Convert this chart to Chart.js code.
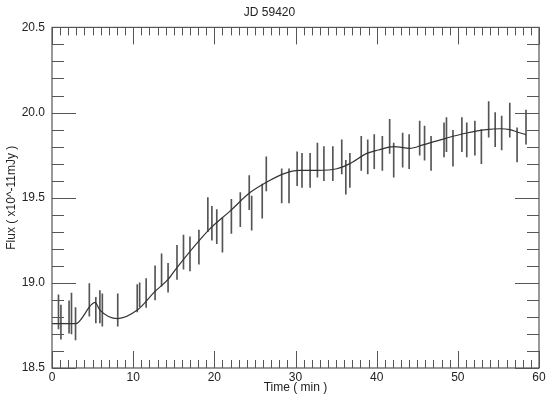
<!DOCTYPE html>
<html>
<head>
<meta charset="utf-8">
<script src="https://cdn.jsdelivr.net/npm/chart.js@4/dist/chart.umd.min.js"></script>
<style>
  html, body { margin: 0; padding: 0; background: #fff; }
</style>
</head>
<body>
<canvas id="c" width="550" height="399"></canvas>
<script>
/* JD 59420 light curve: measurements with error bars + smooth model line */
const TITLE = 'JD 59420';
const X_TITLE = 'Time ( min )';
const Y_TITLE = 'Flux ( x10^-11mJy )';

// measurements (min, flux, 1-sigma)
const obsTime = [0.8, 1.1, 2.1, 2.4, 2.9, 4.6, 5.4, 5.9, 6.2, 8.1,
    10.5, 10.8, 11.6, 12.7, 13.5, 14.3, 15.4, 16.2, 17.0, 18.1,
    19.2, 19.7, 20.3, 21.0, 22.1, 23.2, 24.3, 24.6, 25.9, 26.4,
    28.3, 29.2, 30.2, 30.8, 31.8, 32.7, 33.5, 34.6, 35.7, 36.2,
    36.7, 38.1, 38.9, 39.7, 40.7, 41.6, 42.1, 43.2, 44.0, 45.3,
    45.9, 46.7, 48.3, 48.6, 49.4, 50.5, 51.1, 52.1, 52.9, 53.8,
    54.6, 55.4, 56.4, 57.3, 58.4];
const obsFlux = [18.83, 18.77, 18.80, 18.82, 18.76, 18.90, 18.84, 18.86, 18.84, 18.84,
    18.91, 18.93, 18.94, 19.00, 19.075, 19.03, 19.12, 19.18, 19.17, 19.21,
    19.40, 19.35, 19.33, 19.28, 19.39, 19.43, 19.53, 19.41, 19.48, 19.64,
    19.57, 19.57, 19.67, 19.66, 19.66, 19.72, 19.70, 19.70, 19.74, 19.62,
    19.66, 19.76, 19.74, 19.77, 19.76, 19.86, 19.72, 19.78, 19.77, 19.85,
    19.82, 19.76, 19.84, 19.87, 19.79, 19.87, 19.84, 19.85, 19.80, 19.96,
    19.90, 19.88, 19.955, 19.81, 19.915];
const obsErr = [0.10, 0.10, 0.095, 0.12, 0.095, 0.095, 0.075, 0.095, 0.095, 0.095,
    0.08, 0.07, 0.085, 0.10, 0.095, 0.085, 0.10, 0.10, 0.10, 0.10,
    0.10, 0.10, 0.10, 0.10, 0.10, 0.10, 0.10, 0.10, 0.10, 0.10,
    0.10, 0.10, 0.10, 0.10, 0.10, 0.10, 0.10, 0.10, 0.10, 0.10,
    0.10, 0.10, 0.10, 0.10, 0.10, 0.10, 0.10, 0.10, 0.10, 0.10,
    0.10, 0.10, 0.10, 0.10, 0.105, 0.10, 0.10, 0.10, 0.10, 0.105,
    0.10, 0.10, 0.10, 0.10, 0.10];

// model curve
const fitTime = [0, 2.9, 5.3, 5.9, 8.1, 10.5, 12.7, 14.3, 15.4, 19.3,
    21.9, 24.4, 26.4, 28.5, 30.5, 32.6, 35.1, 36.7, 38.8, 40.2,
    42.1, 44.1, 45.7, 48.6, 51.1, 53.5, 55.2, 56.4, 57.3, 58.4];
const fitFlux = [18.76, 18.76, 18.885, 18.84, 18.79, 18.84, 18.95, 19.02, 19.09, 19.31,
    19.42, 19.53, 19.59, 19.64, 19.66, 19.66, 19.67, 19.70, 19.76, 19.78,
    19.80, 19.79, 19.81, 19.85, 19.88, 19.90, 19.905, 19.90, 19.886, 19.87];

// axes
const xLabels = [0, 10, 20, 30, 40, 50, 60];
const yLabels = [18.5, 19.0, 19.5, 20.0, 20.5];
const xMinorStep = 1, yMinorStep = 0.1;

const FRAME = '#555';
const INK = '#222';

Chart.defaults.font.family = '"Liberation Sans", Arial, sans-serif';
Chart.defaults.font.size = 12;
Chart.defaults.color = INK;

// frame box with inward ticks on all four sides
const frameTicks = {
    id: 'frameTicks',
    afterDraw(chart) {
        const { ctx, chartArea: a, scales: { x, y } } = chart;
        ctx.save();
        ctx.strokeStyle = FRAME;
        ctx.lineWidth = 1.2;
        ctx.strokeRect(a.left, a.top, a.right - a.left, a.bottom - a.top);
        ctx.lineWidth = 1;
        ctx.beginPath();
        for (let v = x.min; v <= x.max + 1e-9; v += xMinorStep) {
            const px = Math.round(x.getPixelForValue(v)) + 0.5;
            const len = xLabels.some(l => Math.abs(l - v) < 1e-6) ? 17 : 8;
            ctx.moveTo(px, a.bottom); ctx.lineTo(px, a.bottom - len);
            ctx.moveTo(px, a.top); ctx.lineTo(px, a.top + len);
        }
        for (let v = y.min; v <= y.max + 1e-9; v += yMinorStep) {
            const py = Math.round(y.getPixelForValue(v)) + 0.5;
            const len = yLabels.some(l => Math.abs(l - v) < 1e-6) ? 24 : 12;
            ctx.moveTo(a.left, py); ctx.lineTo(a.left + len, py);
            ctx.moveTo(a.right, py); ctx.lineTo(a.right - len, py);
        }
        ctx.stroke();
        ctx.restore();
    }
};

new Chart(document.getElementById('c'), {
    data: {
        datasets: [
            {
                type: 'bar', label: 'obs',
                data: obsTime.map((t, i) => ({ x: t, y: [obsFlux[i] - obsErr[i], obsFlux[i] + obsErr[i]] })),
                backgroundColor: '#555', borderWidth: 0, barThickness: 1, grouped: false, order: 2
            },
            {
                type: 'line', label: 'fit',
                data: fitTime.map((t, i) => ({ x: t, y: fitFlux[i] })),
                borderColor: '#333', borderWidth: 1.2, pointRadius: 0,
                cubicInterpolationMode: 'monotone', fill: false, order: 1
            }
        ]
    },
    options: {
        responsive: false, animation: false, devicePixelRatio: 1,
        layout: { padding: { top: 0, left: 0, right: 11, bottom: 0 } },
        plugins: {
            legend: { display: false }, tooltip: { enabled: false },
            title: { display: true, text: TITLE, color: INK, font: { size: 12, weight: 'normal' }, padding: { top: 5, bottom: 8 } }
        },
        scales: {
            x: {
                type: 'linear', min: 0, max: 60, offset: false,
                grid: { display: false, drawTicks: false }, border: { display: false },
                ticks: { stepSize: 10, padding: 2, maxRotation: 0, callback: v => xLabels.includes(v) ? String(v) : '' },
                title: { display: true, text: X_TITLE, padding: { top: 0, bottom: 4 } },
                afterFit: s => { s.height = 31; }
            },
            y: {
                type: 'linear', min: 18.5, max: 20.5,
                grid: { display: false, drawTicks: false }, border: { display: false },
                ticks: { stepSize: 0.5, padding: 7, callback: v => v.toFixed(1) },
                title: { display: true, text: Y_TITLE, padding: { top: 4, bottom: 0 } },
                afterFit: s => { s.width = 52; }
            }
        }
    },
    plugins: [frameTicks]
});
</script>
</body>
</html>
